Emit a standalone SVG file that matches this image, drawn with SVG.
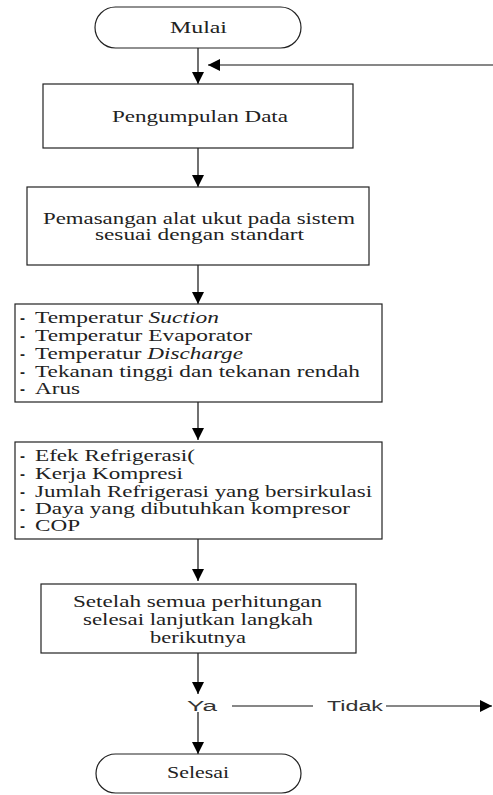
<svg xmlns="http://www.w3.org/2000/svg" width="493" height="795" viewBox="0 0 493 795">
<style>
.shape{fill:#fff;stroke:#222;stroke-width:1.2}
.line{fill:none;stroke:#111;stroke-width:1.2}
.t{font-family:"Liberation Serif","Times New Roman",serif;font-size:16px;fill:#222}
.i{font-style:italic}
.c{text-anchor:middle}
.s{font-family:"Liberation Sans",Arial,sans-serif;font-size:14px;fill:#333}
.d{font-family:"Liberation Sans",Arial,sans-serif;font-size:15px;font-weight:bold;fill:#222}
</style>
<defs>
<marker id="arr" markerUnits="userSpaceOnUse" markerWidth="14" markerHeight="14" viewBox="0 0 14 14" refX="12" refY="7" orient="auto">
<path d="M0,1 L12,7 L0,13 Z" fill="#000"/>
</marker>
</defs>
<rect width="493" height="795" fill="#fff"/>
<g id="connectors">
<line class="line" x1="198" y1="48" x2="198" y2="84" marker-end="url(#arr)"/>
<line class="line" x1="493" y1="65" x2="208" y2="65" marker-end="url(#arr)"/>
<line class="line" x1="198" y1="148" x2="198" y2="187" marker-end="url(#arr)"/>
<line class="line" x1="198" y1="265" x2="198" y2="304" marker-end="url(#arr)"/>
<line class="line" x1="198" y1="402" x2="198" y2="440" marker-end="url(#arr)"/>
<line class="line" x1="198" y1="539" x2="198" y2="581" marker-end="url(#arr)"/>
<line class="line" x1="198" y1="653" x2="198" y2="694" marker-end="url(#arr)"/>
<line class="line" x1="198" y1="712" x2="198" y2="754" marker-end="url(#arr)"/>
<line class="line" x1="232" y1="706" x2="313" y2="706"/>
<line class="line" x1="386" y1="706" x2="492" y2="706" marker-end="url(#arr)"/>
<text id="label-ya" class="s" x="187" y="711" textLength="30" lengthAdjust="spacingAndGlyphs">Ya</text>
<text id="label-tidak" class="s" x="327" y="711" textLength="56" lengthAdjust="spacingAndGlyphs">Tidak</text>
</g>
<g id="mulai">
<rect class="shape" x="95" y="7" width="206" height="41" rx="20.5" ry="20.5"/>
<text class="t c" x="198.5" y="33" textLength="57" lengthAdjust="spacingAndGlyphs">Mulai</text>
</g>
<g id="pengumpulan">
<rect class="shape" x="43" y="84" width="310" height="64"/>
<text class="t" x="112" y="122" textLength="176" lengthAdjust="spacingAndGlyphs">Pengumpulan Data</text>
</g>
<g id="pemasangan">
<rect class="shape" x="27" y="187" width="342" height="78"/>
<text class="t" x="43" y="224" textLength="312" lengthAdjust="spacingAndGlyphs">Pemasangan alat ukut pada sistem</text>
<text class="t" x="95" y="240" textLength="209" lengthAdjust="spacingAndGlyphs">sesuai dengan standart</text>
</g>
<g id="pengukuran">
<rect class="shape" x="15" y="304" width="367" height="98"/>
<text class="d" x="20" y="323">-</text>
<text class="t" x="35" y="323" textLength="184" lengthAdjust="spacingAndGlyphs">Temperatur <tspan class="i">Suction</tspan></text>
<text class="d" x="20" y="341">-</text>
<text class="t" x="35" y="341" textLength="217" lengthAdjust="spacingAndGlyphs">Temperatur Evaporator</text>
<text class="d" x="20" y="359">-</text>
<text class="t" x="35" y="359" textLength="208" lengthAdjust="spacingAndGlyphs">Temperatur <tspan class="i">Discharge</tspan></text>
<text class="d" x="20" y="377">-</text>
<text class="t" x="35" y="377" textLength="325" lengthAdjust="spacingAndGlyphs">Tekanan tinggi dan tekanan rendah</text>
<text class="d" x="20" y="394">-</text>
<text class="t" x="35" y="394" textLength="45" lengthAdjust="spacingAndGlyphs">Arus</text>
</g>
<g id="perhitungan">
<rect class="shape" x="15" y="442" width="367" height="97"/>
<text class="d" x="20" y="461">-</text>
<text class="t" x="35" y="461" textLength="160" lengthAdjust="spacingAndGlyphs">Efek Refrigerasi(</text>
<text class="d" x="20" y="479">-</text>
<text class="t" x="35" y="479" textLength="148" lengthAdjust="spacingAndGlyphs">Kerja Kompresi</text>
<text class="d" x="20" y="497">-</text>
<text class="t" x="35" y="497" textLength="337" lengthAdjust="spacingAndGlyphs">Jumlah Refrigerasi yang bersirkulasi</text>
<text class="d" x="20" y="514">-</text>
<text class="t" x="35" y="514" textLength="315" lengthAdjust="spacingAndGlyphs">Daya yang dibutuhkan kompresor</text>
<text class="d" x="20" y="531">-</text>
<text class="t" x="35" y="531" textLength="45" lengthAdjust="spacingAndGlyphs">COP</text>
</g>
<g id="lanjut">
<rect class="shape" x="41" y="584" width="315" height="69"/>
<text class="t" x="73" y="607" textLength="249" lengthAdjust="spacingAndGlyphs">Setelah semua perhitungan</text>
<text class="t" x="83" y="625" textLength="230" lengthAdjust="spacingAndGlyphs">selesai lanjutkan langkah</text>
<text class="t" x="150" y="643" textLength="96" lengthAdjust="spacingAndGlyphs">berikutnya</text>
</g>
<g id="selesai">
<rect class="shape" x="96" y="754" width="205" height="39" rx="19.5" ry="19.5"/>
<text class="t" x="167" y="778" textLength="62" lengthAdjust="spacingAndGlyphs">Selesai</text>
</g>
</svg>
